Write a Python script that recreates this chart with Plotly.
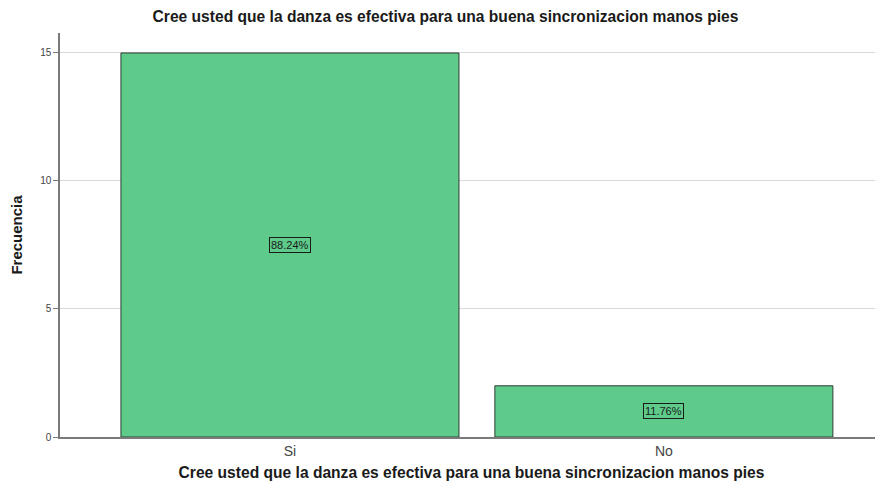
import plotly.graph_objects as go

categories = ["Si", "No"]
frecuencia = [15, 2]
porcentajes = ["88.24%", "11.76%"]

title = "Cree usted que la danza es efectiva para una buena sincronizacion manos pies"

fig = go.Figure()
fig.add_trace(go.Bar(
    x=categories, y=frecuencia, width=0.904,
    marker=dict(color="#5ecb8a", line=dict(color="#2f3b33", width=1)),
    hoverinfo="skip",
))

for c, v, p in zip(categories, frecuencia, porcentajes):
    fig.add_annotation(x=c, y=v / 2, text=p, showarrow=False,
                       font=dict(family="Arial", size=11, color="#1a1a1a"),
                       bordercolor="#1a1a1a", borderwidth=1, borderpad=1,
                       bgcolor="rgba(0,0,0,0)")

fig.update_layout(
    width=875, height=487,
    margin=dict(l=52, r=0, t=25, b=58),
    paper_bgcolor="white", plot_bgcolor="white",
    title=dict(text="<b>" + title + "</b>", x=0.5, xanchor="center", y=0.9815, yanchor="middle",
               font=dict(family="Arial", size=15.6, color="#1a1a1a")),
    showlegend=False,
    bargap=0.1,
)
fig.update_xaxes(
    range=[-0.615, 1.586], showgrid=False, showline=True, linecolor="#7a7a7a", linewidth=1.5,
    ticks="", tickfont=dict(family="Arial", size=14, color="#444"),
    title=dict(text="<b>" + title + "</b>", font=dict(family="Arial", size=15.6, color="#1a1a1a"), standoff=10),
)
fig.update_yaxes(
    range=[0, 15.78], tickvals=[0, 5, 10, 15], showgrid=True, gridcolor="#d9d9d9", gridwidth=1,
    showline=True, linecolor="#7a7a7a", linewidth=1.5, zeroline=False,
    ticks="outside", ticklen=5, tickcolor="#7a7a7a", tickfont=dict(family="Arial", size=10, color="#444"),
    title=dict(text="<b>Frecuencia</b>", font=dict(family="Arial", size=15, color="#1a1a1a"), standoff=14),
)

fig.write_html("out.html")
